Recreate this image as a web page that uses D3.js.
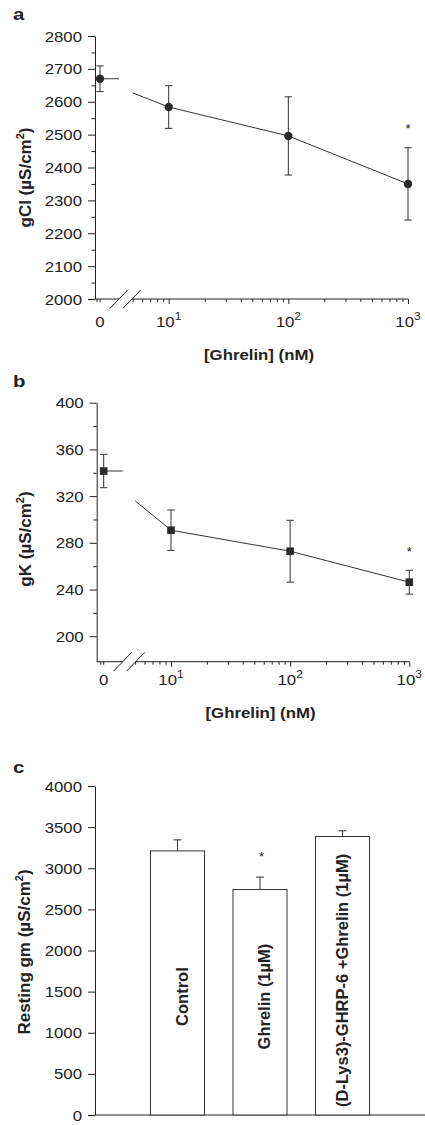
<!DOCTYPE html>
<html><head><meta charset="utf-8">
<script src="https://cdn.jsdelivr.net/npm/d3@7"></script>
<style>
body{margin:0;background:#fff}
svg{display:block}
text{font-family:"Liberation Sans",Arial,Helvetica,sans-serif;fill:#222}
</style>
</head><body>
<svg id="chart" width="425" height="1125"></svg>
<script>
// ---------------- data ----------------
const doses = [10, 100, 1000];          // nM (log part of the axis)
const fitStartDose = 5;                  // where the drawn line begins
const gClControl = 2670, gClControlSem = 39;
const gClMeans = [2584, 2496, 2350];
const gClSems = [65, 119, 110];
const gClFitStart = 2627;
const gClSignificant = [false, false, true];

const gKControl = 341.5, gKControlSem = 14.3;
const gKMeans = [290.8, 272.8, 246.3];
const gKSems = [17.3, 26.5, 10.2];
const gKFitStart = 316;
const gKSignificant = [false, false, true];

const gmCategories = ["Control", "Ghrelin (1µM)", "(D-Lys3)-GHRP-6 +Ghrelin (1µM)"];
const gmMeans = [3211, 2741, 3386];
const gmSems = [134, 151, 69];
const gmSignificant = [false, true, false];

const gClTicks = d3.range(2000, 2801, 100);
const gClMinor = d3.range(2050, 2800, 100);
const gKTicks = d3.range(200, 401, 40);
const gKMinor = d3.range(220, 400, 40);
const gmTicks = d3.range(0, 4001, 500);
const xMajorTicks = [10, 100, 1000];
const xMajorExponents = ["1", "2", "3"];
const xMinorTicks = [5,6,7,8,9,20,30,40,50,60,70,80,90,200,300,400,500,600,700,800,900];

// ---------------- helpers ----------------
const SX = 1.2;
const INK = "#222";
const svg = d3.select("#chart");
svg.append("rect").attr("width", 425).attr("height", 1125).attr("fill", "#fff");

function htext(parent, x, y, anchor, size, weight) {
  return parent.append("text")
    .attr("transform", `translate(${x},${y}) scale(${SX},1)`)
    .attr("text-anchor", anchor)
    .style("font-size", size + "px")
    .style("font-weight", weight || "normal");
}
function vtext(parent, x, y, anchor, size) {
  return parent.append("text")
    .attr("transform", `translate(${x},${y}) rotate(-90)`)
    .attr("text-anchor", anchor)
    .style("font-size", size + "px")
    .style("font-weight", "bold");
}
function unitLabel(t, prefix) {
  t.append("tspan").text(prefix + " (µS/cm");
  t.append("tspan").attr("dy", -7).style("font-size", "11px").text("2");
  t.append("tspan").attr("dy", 7).text(")");
}
function cleanAxis(g) {
  g.attr("font-size", null).attr("font-family", null);
  g.selectAll("line,path").attr("stroke", INK);
}
function styleYTicks(g, offset) {
  g.selectAll(".tick text")
    .attr("x", null).attr("dy", "0.36em")
    .attr("transform", `translate(${-offset},0) scale(${SX},1)`)
    .style("font-size", "14px").attr("fill", INK);
}
const intFmt = d3.format("d");

// ---------------- dose-response panels ----------------
function linePanel(cfg) {
  const g = svg.append("g");
  const y = d3.scaleLinear().domain(cfg.yDomain).range(cfg.yRange);
  const xl = d3.scaleLog().domain([10, 1000]).range(cfg.logRange);
  const X = d => d === 0 ? cfg.zeroX : xl(d);
  const axisY = y(cfg.yDomain[0]);
  const brk1 = cfg.zeroX + 19, brk2 = cfg.zeroX + 32;

  // y axis
  const ya = g.append("g").attr("transform", `translate(${cfg.axisX},0)`)
    .call(d3.axisLeft(y).tickValues(cfg.ticks).tickFormat(intFmt).tickSize(7).tickPadding(6).tickSizeOuter(0));
  cleanAxis(ya); styleYTicks(ya, 13);
  const ym = g.append("g").attr("transform", `translate(${cfg.axisX},0)`)
    .call(d3.axisLeft(y).tickValues(cfg.minor).tickSize(3.5).tickFormat(""));
  ym.select(".domain").remove(); cleanAxis(ym);

  // x axis line with a break
  g.append("line").attr("x1", cfg.axisX).attr("x2", brk1).attr("y1", axisY).attr("y2", axisY).attr("stroke", INK);
  g.append("line").attr("x1", brk2).attr("x2", cfg.logRange[1]).attr("y1", axisY).attr("y2", axisY).attr("stroke", INK);
  [brk1, brk2].forEach(cx => {
    g.append("line").attr("x1", cx - 9).attr("y1", axisY + 9.3).attr("x2", cx + 9).attr("y2", axisY - 9.3)
      .attr("stroke", INK).attr("stroke-width", 1);
  });
  const xa = g.append("g").attr("transform", `translate(0,${axisY})`)
    .call(d3.axisBottom(xl).tickValues(xMajorTicks).tickSize(5).tickFormat(""));
  xa.select(".domain").remove(); cleanAxis(xa);
  const xm = g.append("g").attr("transform", `translate(0,${axisY})`)
    .call(d3.axisBottom(xl).tickValues(xMinorTicks).tickSize(3).tickFormat(""));
  xm.select(".domain").remove(); cleanAxis(xm);
  [X(0), X(0) - 3].forEach(tx => {
    g.append("line").attr("x1", tx).attr("x2", tx).attr("y1", axisY).attr("y2", axisY + 3).attr("stroke", INK);
  });

  // x tick labels
  htext(g, X(0), cfg.xTickY, "middle", 14).text("0");
  xMajorTicks.forEach((d, i) => {
    const t = htext(g, X(d), cfg.xTickY, "middle", 14);
    t.append("tspan").text("10");
    t.append("tspan").attr("dy", -7).style("font-size", "10px").text(xMajorExponents[i]);
  });
  htext(g, cfg.xTitleX, cfg.xTitleY, "middle", 14, "bold").text("[Ghrelin] (nM)");

  // y title
  unitLabel(vtext(g, cfg.yTitleX, cfg.yTitleY, "middle", 17), cfg.yTitle);
  // panel letter
  htext(g, 13, cfg.letterY, "start", 17, "bold").text(cfg.letter);

  // data
  const pts = doses.map((d, i) => ({dose: d, v: cfg.means[i], s: cfg.sems[i], sig: cfg.sig[i]}));
  const line = d3.line().x(d => X(d.dose)).y(d => y(d.v));
  g.append("path").attr("d", line([{dose: fitStartDose, v: cfg.fitStart}].concat(pts)))
    .attr("fill", "none").attr("stroke", "#333").attr("stroke-width", 1);
  // control connector to the break
  g.append("line").attr("x1", X(0)).attr("x2", brk1).attr("y1", y(cfg.control)).attr("y2", y(cfg.control))
    .attr("stroke", "#333").attr("stroke-width", 1);

  const all = [{dose: 0, v: cfg.control, s: cfg.controlSem, sig: false}].concat(pts);
  all.forEach(d => {
    const cx = X(d.dose);
    g.append("line").attr("x1", cx).attr("x2", cx).attr("y1", y(d.v - d.s)).attr("y2", y(d.v + d.s)).attr("stroke", "#333");
    [d.v - d.s, d.v + d.s].forEach(e => {
      g.append("line").attr("x1", cx - 3.7).attr("x2", cx + 3.7).attr("y1", y(e)).attr("y2", y(e)).attr("stroke", "#333");
    });
    if (cfg.marker === "circle") {
      g.append("circle").attr("cx", cx).attr("cy", y(d.v)).attr("r", 4.2).attr("fill", "#2a2a2a");
    } else {
      g.append("rect").attr("x", cx - 3.8).attr("y", y(d.v) - 3.8).attr("width", 7.6).attr("height", 7.6).attr("fill", "#2a2a2a");
    }
    if (d.sig) {
      g.append("text").attr("x", cx).attr("y", y(d.v + d.s) - 22 + 7.5).attr("text-anchor", "middle")
        .style("font-size", "13px").text("*");
    }
  });
}

linePanel({
  letter: "a", letterY: 20,
  axisX: 95, zeroX: 100, logRange: [168.7, 408],
  yDomain: [2000, 2800], yRange: [299, 36],
  ticks: gClTicks, minor: gClMinor,
  xTickY: 326.7, xTitleX: 259, xTitleY: 359.5,
  yTitle: "gCl", yTitleX: 30.5, yTitleY: 177.5,
  marker: "circle",
  control: gClControl, controlSem: gClControlSem,
  means: gClMeans, sems: gClSems, fitStart: gClFitStart, sig: gClSignificant
});

linePanel({
  letter: "b", letterY: 386.7,
  axisX: 96.7, zeroX: 103.7, logRange: [171, 409.3],
  yDomain: [178.2, 400], yRange: [661.7, 402.7],
  ticks: gKTicks, minor: gKMinor,
  xTickY: 685, xTitleX: 260.5, xTitleY: 717.5,
  yTitle: "gK", yTitleX: 31, yTitleY: 539,
  marker: "square",
  control: gKControl, controlSem: gKControlSem,
  means: gKMeans, sems: gKSems, fitStart: gKFitStart, sig: gKSignificant
});

// ---------------- bar panel ----------------
(function () {
  const g = svg.append("g");
  const y = d3.scaleLinear().domain([0, 4000]).range([1115, 786]);
  const x = d3.scaleBand().domain(gmCategories).range([95, 425]).paddingInner(0.345).paddingOuter(0.673);

  const ya = g.append("g").attr("transform", "translate(95,0)")
    .call(d3.axisLeft(y).tickValues(gmTicks).tickFormat(intFmt).tickSize(7).tickPadding(6).tickSizeOuter(0));
  cleanAxis(ya); styleYTicks(ya, 13);
  g.append("line").attr("x1", 95).attr("x2", 425).attr("y1", y(0)).attr("y2", y(0)).attr("stroke", INK);

  unitLabel(vtext(g, 29.5, 952, "middle", 17), "Resting gm");
  htext(g, 13, 773, "start", 17, "bold").text("c");

  const labelOffsets = [10.3, 9.5, 6];
  gmCategories.forEach((c, i) => {
    const x0 = x(c), bw = x.bandwidth(), cx = x0 + bw / 2;
    g.append("line").attr("x1", cx).attr("x2", cx).attr("y1", y(gmMeans[i])).attr("y2", y(gmMeans[i] + gmSems[i])).attr("stroke", "#333");
    g.append("line").attr("x1", cx - 4).attr("x2", cx + 4).attr("y1", y(gmMeans[i] + gmSems[i])).attr("y2", y(gmMeans[i] + gmSems[i])).attr("stroke", "#333");
    g.append("rect").attr("x", x0).attr("y", y(gmMeans[i])).attr("width", bw).attr("height", y(0) - y(gmMeans[i]))
      .attr("fill", "#fff").attr("stroke", "#333").attr("stroke-width", 1);
    const last = i === gmCategories.length - 1;
    vtext(g, cx + labelOffsets[i], last ? y(97) : y(1440), last ? "start" : "middle", 16.5).text(c);
    if (gmSignificant[i]) {
      g.append("text").attr("x", cx + 1.5).attr("y", y(gmMeans[i] + gmSems[i]) - 24 + 7.5).attr("text-anchor", "middle")
        .style("font-size", "13px").text("*");
    }
  });
})();
</script>
</body></html>
